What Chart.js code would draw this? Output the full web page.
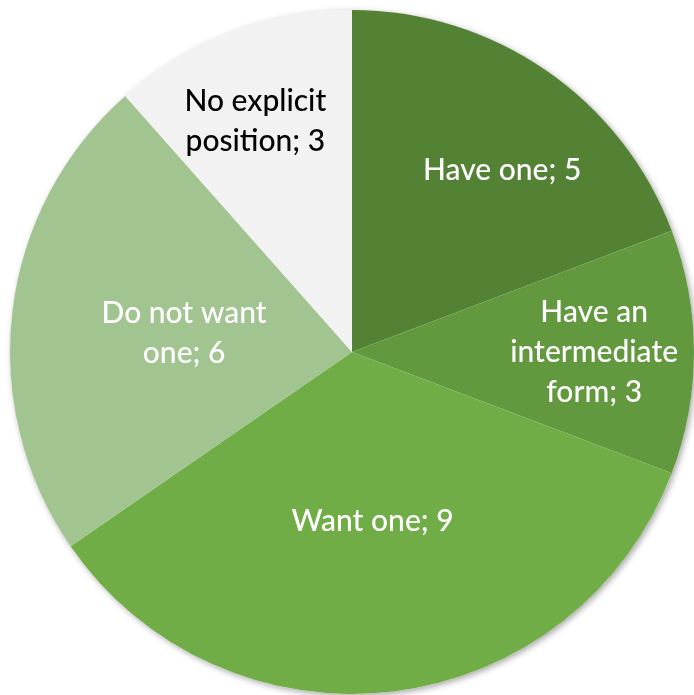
<!DOCTYPE html>
<html>
<head>
<meta charset="utf-8">
<script src="https://cdn.jsdelivr.net/npm/chart.js@4"></script>
<style>
html,body{margin:0;padding:0;background:#fff;overflow:hidden;width:694px;height:695px;}
#wrap{position:absolute;left:0;top:0;width:704px;height:704px;}
</style>
</head>
<body>
<div id="wrap"><canvas id="c" width="704" height="704"></canvas></div>
<script>
const categories = [
  ["Have one; 5"],
  ["Have an", "intermediate", "form; 3"],
  ["Want one; 9"],
  ["Do not want", "one; 6"],
  ["No explicit", "position; 3"]
];
const values = [5, 3, 9, 6, 3];
const colors = ["#548235", "#62993E", "#70AD47", "#A2C490", "#F2F2F2"];
const textColors = ["#ffffff", "#ffffff", "#ffffff", "#ffffff", "#000000"];
// label placement: radial fraction and angular shift (degrees)
const labelRadius = [0.69, 0.708, 0.5, 0.494, 0.73];
const labelShift = [4.9, 0, 0, -0.5, -2];

const shadowPlugin = {
  id: 'shadow',
  beforeDatasetsDraw(chart) {
    const arc = chart.getDatasetMeta(0).data[0];
    if (!arc) return;
    const ctx = chart.ctx;
    ctx.save();
    ctx.shadowColor = 'rgba(0,0,0,0.35)';
    ctx.shadowBlur = 6;
    ctx.shadowOffsetX = 2;
    ctx.shadowOffsetY = 2;
    ctx.fillStyle = '#ffffff';
    ctx.beginPath();
    ctx.arc(arc.x, arc.y, arc.outerRadius, 0, Math.PI * 2);
    ctx.fill();
    ctx.restore();
  }
};

const labelPlugin = {
  id: 'labels',
  afterDatasetsDraw(chart) {
    const ctx = chart.ctx;
    const meta = chart.getDatasetMeta(0);
    ctx.save();
    ctx.font = '500 30px Lato, "Noto Sans", sans-serif';
    ctx.textAlign = 'center';
    ctx.textBaseline = 'middle';
    const lineH = 40;
    meta.data.forEach((arc, i) => {
      const p = arc.getProps(['x', 'y', 'startAngle', 'endAngle', 'outerRadius']);
      const mid = (p.startAngle + p.endAngle) / 2 + labelShift[i] * Math.PI / 180;
      const r = p.outerRadius * labelRadius[i];
      const cx = p.x + Math.cos(mid) * r;
      const cy = p.y + Math.sin(mid) * r;
      const lines = categories[i];
      ctx.fillStyle = textColors[i];
      lines.forEach((t, k) => {
        ctx.fillText(t, cx, cy + (k - (lines.length - 1) / 2) * lineH);
      });
    });
    ctx.restore();
  }
};

new Chart(document.getElementById('c'), {
  type: 'pie',
  data: {
    labels: categories.map(l => l.join(' ')),
    datasets: [{
      data: values,
      backgroundColor: colors,
      borderWidth: 0
    }]
  },
  options: {
    responsive: false,
    animation: false,
    layout: { padding: 10 },
    plugins: {
      legend: { display: false },
      tooltip: { enabled: false }
    }
  },
  plugins: [shadowPlugin, labelPlugin]
});
</script>
</body>
</html>
